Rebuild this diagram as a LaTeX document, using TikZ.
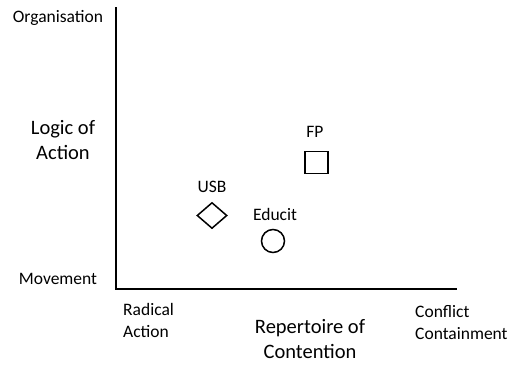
\documentclass[tikz,border=0pt]{standalone}
\usepackage{fontspec}
\setmainfont{Carlito}
\usetikzlibrary{shapes.geometric}
\begin{document}
\begin{tikzpicture}[x=1pt,y=-1pt,
  small/.style={font=\fontsize{17.5}{22}\selectfont, inner sep=0pt},
  big/.style={font=\fontsize{20.5}{25}\selectfont, inner sep=0pt, align=center},
  mark2/.style={draw, line width=1.5pt, minimum size=0pt, inner sep=0pt},
  axis/.style={line width=1.5pt}]
\useasboundingbox (0,0) rectangle (513,367);
\coordinate (top) at (116,7);
\coordinate (origin) at (116,289);
\coordinate (right) at (457,289);
\draw[axis] (top) -- (origin) -- (right);
\node[small] (org) at (58,18) {Organisation};
\node[small] (mov) at (58,279) {Movement};
\node[big] (loa) at (63,140) {Logic of\\Action};
\node[small, align=left, anchor=west] (rad) at (123,320) {Radical\\Action};
\node[big] (rep) at (310,339) {Repertoire of\\Contention};
\node[small, align=left, anchor=west] (con) at (415,323) {Conflict\\Containment};
\node[mark2, rectangle, minimum width=23pt, minimum height=22pt] (fp) at (316.5,162.5) {};
\node[small] (fpl) at (315,132) {FP};
\node[mark2, diamond, minimum width=30pt, minimum height=26pt] (usb) at (212,215.5) {};
\node[small] (usbl) at (212,187) {USB};
\node[mark2, circle, minimum size=23pt] (edu) at (273,241) {};
\node[small] (edul) at (275,214) {Educit};
\end{tikzpicture}
\end{document}
